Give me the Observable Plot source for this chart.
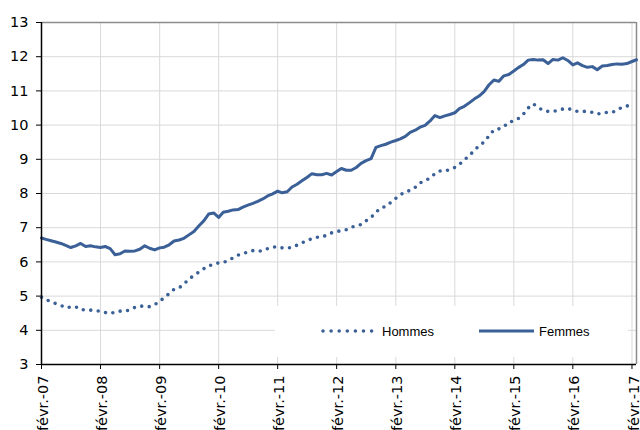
<!DOCTYPE html>
<html><head><meta charset="utf-8">
<script src="https://cdn.jsdelivr.net/npm/d3@7"></script>
<script src="https://cdn.jsdelivr.net/npm/@observablehq/plot@0.6"></script>
<style>
body{margin:0;padding:0;background:#fff;font-family:"Liberation Sans",Arial,sans-serif;}
#chart{position:relative;width:640px;height:430px;overflow:hidden;}
</style></head>
<body><div id="chart"></div>
<script>
// Monthly series starting février 2007
const startYear = 2007, startMonth = 1;
const femmes = [6.70,6.66,6.62,6.58,6.54,6.48,6.42,6.47,6.54,6.45,6.47,6.44,
6.42,6.45,6.39,6.21,6.24,6.32,6.31,6.32,6.37,6.47,6.40,6.35,
6.41,6.43,6.50,6.61,6.64,6.69,6.79,6.89,7.05,7.20,7.40,7.43,
7.30,7.45,7.48,7.52,7.53,7.60,7.66,7.71,7.77,7.84,7.93,7.99,
8.07,8.02,8.05,8.19,8.27,8.37,8.47,8.58,8.55,8.55,8.59,8.54,
8.64,8.73,8.68,8.68,8.76,8.88,8.96,9.02,9.35,9.40,9.44,9.50,
9.55,9.60,9.67,9.79,9.85,9.94,9.99,10.12,10.28,10.22,10.27,10.31,
10.36,10.48,10.55,10.65,10.76,10.85,10.98,11.18,11.32,11.28,11.44,11.48,
11.58,11.68,11.77,11.90,11.92,11.90,11.91,11.80,11.92,11.90,11.97,11.89,
11.76,11.82,11.74,11.69,11.71,11.62,11.73,11.74,11.77,11.79,11.78,11.80,
11.86,11.91];
const hommes = [4.97,4.90,4.83,4.78,4.73,4.66,4.68,4.69,4.60,4.60,4.59,4.58,
4.55,4.52,4.49,4.53,4.56,4.56,4.60,4.67,4.71,4.70,4.69,4.75,
4.84,4.96,5.07,5.20,5.24,5.35,5.50,5.60,5.70,5.80,5.88,5.94,
5.97,5.98,6.04,6.12,6.20,6.24,6.29,6.33,6.31,6.33,6.39,6.43,
6.44,6.41,6.41,6.42,6.49,6.56,6.62,6.68,6.72,6.73,6.78,6.85,
6.89,6.91,6.94,7.01,7.06,7.09,7.20,7.30,7.45,7.58,7.62,7.74,
7.86,7.96,8.05,8.09,8.18,8.31,8.38,8.45,8.58,8.66,8.66,8.70,
8.76,8.85,8.98,9.11,9.25,9.40,9.50,9.69,9.86,9.89,9.95,10.09,
10.12,10.19,10.32,10.50,10.62,10.52,10.43,10.40,10.40,10.43,10.47,10.49,
10.43,10.40,10.40,10.40,10.37,10.32,10.35,10.37,10.37,10.44,10.52,10.56,
10.58];
const yTicks = [3,4,5,6,7,8,9,10,11,12,13];
const xTickYears = [2007,2008,2009,2010,2011,2012,2013,2014,2015,2016,2017];
const seriesNames = ["Hommes","Femmes"];

const color = "#3a6097";
const monthDate = i => new Date(Date.UTC(startYear, startMonth + i, 1));
const dataF = femmes.map((v,i)=>({date: monthDate(i), value: v}));
const dataH = hommes.map((v,i)=>({date: monthDate(i), value: v}));
const xStart = monthDate(0), xEnd = monthDate(femmes.length - 1);
const xTicks = xTickYears.map(y => new Date(Date.UTC(y, 1, 1)));
const moisFmt = d => "févr.-" + String(d.getUTCFullYear()).slice(2);

const plot = Plot.plot({
  width: 640, height: 430,
  marginLeft: 41, marginRight: 4, marginTop: 22, marginBottom: 66,
  style: {fontFamily: '"Liberation Sans", Arial, sans-serif', color: "#000", background: "#fff"},
  x: {type: "utc", domain: [xStart, xEnd]},
  y: {domain: [3, 13]},
  marks: [
    Plot.gridY(yTicks.slice(1), {stroke: "#d9d9d9", strokeOpacity: 1}),
    Plot.gridX(xTicks.slice(1), {stroke: "#d9d9d9", strokeOpacity: 1}),
    Plot.ruleY([13], {stroke: "#8c8c8c", strokeWidth: 1.5}),
    Plot.ruleX([xEnd], {stroke: "#8c8c8c", strokeWidth: 1.5}),
    Plot.axisY({ticks: yTicks, tickSize: 5, tickPadding: 8, label: null, stroke: "#000", fill: "#000"}),
    Plot.axisX({ticks: xTicks, tickFormat: moisFmt, tickRotate: -90, tickSize: 5, tickPadding: 6, label: null, stroke: "#000", fill: "#000"}),
    Plot.line(dataH, {x: "date", y: "value", stroke: color, strokeWidth: 3.6, strokeLinecap: "round", strokeDasharray: "0,7.5"}),
    Plot.line(dataF, {x: "date", y: "value", stroke: color, strokeWidth: 3, strokeLinejoin: "round"}),
    Plot.ruleY([3], {stroke: "#000", strokeWidth: 1.5}),
    Plot.ruleX([xStart], {stroke: "#000", strokeWidth: 1.5})
  ]
});
document.getElementById("chart").appendChild(plot);

const svg = d3.select(plot);
svg.select('g[aria-label="y-axis tick label"]').selectAll("text")
  .style("font-size", "14.5px").style("font-family", '"DejaVu Sans", sans-serif');
const xg = svg.select('g[aria-label="x-axis tick label"]');
xg.selectAll("text").style("font-size", "14.5px").style("font-family", '"DejaVu Sans", sans-serif');
if (!xg.empty()) xg.attr("transform", "translate(2,0) " + (xg.attr("transform") || ""));

// Legend inside the plot area
const lg = svg.append("g").attr("font-family", '"Liberation Sans", Arial, sans-serif')
  .attr("text-anchor", "start").attr("fill", "#000");
lg.append("rect").attr("x", 275).attr("y", 306).attr("width", 353).attr("height", 51).attr("fill", "#fff");
lg.append("line").attr("x1", 323).attr("x2", 372).attr("y1", 331).attr("y2", 331)
  .attr("stroke", color).attr("stroke-width", 3.6).attr("stroke-linecap", "round").attr("stroke-dasharray", "0,8.1");
lg.append("text").attr("x", 382).attr("y", 335.5).style("font-size", "13px").text(seriesNames[0]);
lg.append("line").attr("x1", 479).attr("x2", 534).attr("y1", 331).attr("y2", 331)
  .attr("stroke", color).attr("stroke-width", 3);
lg.append("text").attr("x", 539).attr("y", 335.5).style("font-size", "13px").text(seriesNames[1]);
</script></body></html>
